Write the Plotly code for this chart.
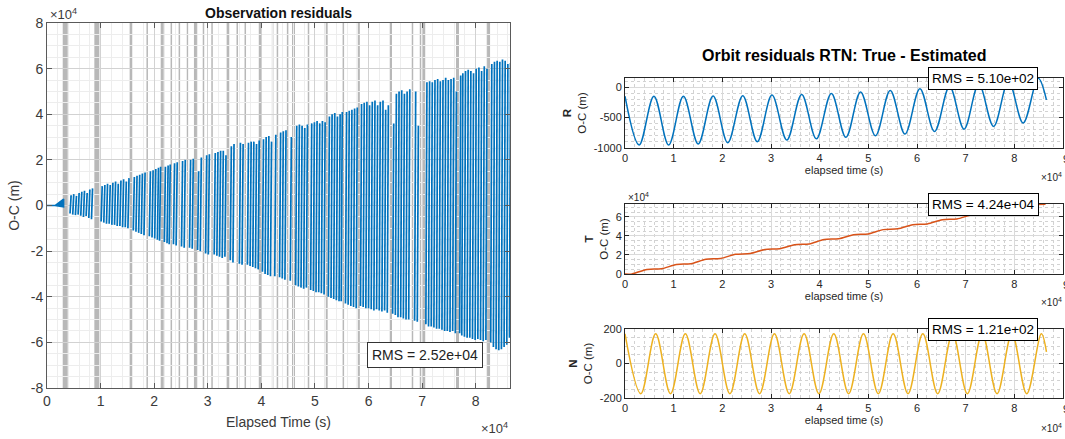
import plotly.graph_objects as go

# ---------------- Left panel: observation residuals (time in ks, residual in km) -------------
STREAK_T = [
    4.3, 4.8, 5.3, 5.8, 6.3, 6.8, 7.3, 7.8, 8.3,
    10.1, 10.6, 11.1, 11.6, 12.1, 12.6, 13.1, 13.6, 14.1, 14.6, 15.1,
    16.1, 16.6, 17.1, 17.6, 18.1,
    19.1, 19.6, 20.1, 20.6, 21.0,
    21.9, 22.4, 22.8,
    23.6, 24.1,
    25.1, 25.6,
    26.6, 27.1,
    28.1, 28.6,
    29.6, 30.1,
    31.2, 31.7, 32.2, 32.7, 33.2,
    34.2, 34.7,
    35.9, 36.4,
    37.4, 37.9, 38.4, 38.9, 39.4,
    40.2, 40.7, 41.2, 41.7,
    42.5,
    43.4, 43.9, 44.4,
    45.4,
    46.4, 46.9, 47.4, 47.9, 48.4,
    49.2, 49.7, 50.2, 50.7, 51.2, 51.7,
    52.5, 53.0, 53.5, 54.0, 54.5, 54.9,
    55.7, 56.2, 56.7, 57.2, 57.7,
    58.5, 59.0, 59.5, 60.0, 60.5, 61.0, 61.5, 62.0, 62.5, 63.0, 63.5,
    64.5, 65.0, 65.5, 66.0, 66.5, 67.0, 67.5,
    68.6, 69.1,
    70.7, 71.2, 71.7, 72.2, 72.7, 73.2, 73.7, 74.2, 74.7, 75.2, 75.7, 76.2,
    77.0, 77.4, 77.9, 78.4, 78.9, 79.4, 79.9, 80.4, 80.9, 81.4, 81.9,
    82.8, 83.3, 83.8, 84.3, 84.8, 85.3, 85.8, 86.3,
]
STREAK_TOP = [
    4.5, 5.0, 4.2, 5.5, 6.0, 6.5, 5.5, 7.0, 7.5,
    8.5, 9.0, 9.5, 9.0, 10.0, 10.5, 9.5, 11.0, 11.5, 10.5, 12.0,
    12.5, 13.0, 13.5, 14.0, 14.5,
    15.0, 15.5, 16.0, 16.5, 17.0,
    17.0, 17.5, 18.0,
    18.5, 19.0,
    19.5, 20.0,
    20.0, 20.5,
    15.0, 21.0,
    22.0, 22.5,
    23.0, 23.5, 24.0, 24.0, 22.0,
    26.0, 27.0,
    27.5, 27.0,
    27.5, 28.0, 28.0, 27.0, 28.5,
    29.0, 30.0, 30.5, 28.0,
    31.0,
    32.0, 32.5, 33.0,
    30.0,
    35.0, 35.5, 35.0, 34.0, 35.5,
    36.0, 36.5, 37.0, 36.0, 37.0, 36.5,
    39.0, 40.0, 40.5, 39.0, 40.0, 41.0,
    41.0, 41.5, 42.0, 42.5, 43.0,
    44.5, 45.0, 45.5, 44.0, 45.5, 46.0, 44.0, 45.5, 46.0, 42.0, 44.0,
    36.0, 49.0, 50.0, 50.5, 49.0, 50.0, 51.0,
    50.0, 35.0,
    54.0, 54.5, 54.0, 55.0, 55.5, 54.5, 55.0, 56.0, 55.0, 55.5, 56.0, 50.0,
    57.0, 58.0, 59.0, 59.5, 59.0, 58.0, 60.0, 60.5, 59.0, 61.0, 60.0,
    62.0, 63.0, 63.5, 63.0, 64.0, 63.5, 62.0, 62.5,
]
STREAK_BOT = [
    -3.5, -4.0, -4.2, -4.0, -4.5, -5.0, -4.6, -5.5, -6.0,
    -7.0, -7.5, -8.0, -8.0, -8.5, -8.5, -9.0, -9.0, -9.5, -9.5, -10.0,
    -11.0, -11.5, -12.0, -12.5, -13.0,
    -13.5, -14.0, -14.5, -15.0, -15.5,
    -16.0, -16.5, -17.0,
    -17.0, -17.5,
    -18.0, -18.5,
    -18.5, -19.0,
    -19.5, -20.0,
    -21.0, -21.5,
    -21.5, -22.0, -22.5, -23.0, -22.5,
    -24.0, -25.0,
    -25.5, -26.0,
    -26.0, -26.5, -27.0, -27.5, -28.0,
    -29.0, -30.0, -30.5, -31.0,
    -31.0,
    -31.5, -32.0, -32.5,
    -33.0,
    -35.0, -35.5, -36.0, -36.5, -36.0,
    -37.0, -37.5, -38.0, -38.0, -38.5, -39.0,
    -40.0, -40.5, -41.0, -41.5, -42.0, -42.0,
    -43.0, -43.5, -44.0, -44.5, -45.0,
    -44.0, -44.5, -45.0, -45.0, -45.5, -46.0, -45.5, -46.0, -46.5, -46.0, -47.0,
    -47.5, -48.0, -49.0, -49.0, -49.5, -50.0, -50.0,
    -50.5, -51.0,
    -52.0, -53.0, -53.0, -53.5, -54.0, -54.0, -54.5, -55.0, -55.0, -55.5, -55.0, -56.0,
    -56.0, -57.0, -57.5, -58.0, -58.0, -58.5, -59.0, -58.5, -59.0, -59.5, -59.0,
    -60.0, -62.0, -63.0, -63.5, -63.0, -62.0, -61.0, -58.0,
]
START_T = [0.0, 1.5, 3.1, 3.1, 1.5]      # initial wedge (ks)
START_Y = [0.0, 0.0, 2.8, -0.6, 0.0]     # (km)

GAP_T_KS = [3.4, 9.3, 15.7, 18.7, 21.5, 23.2, 24.7, 26.2, 27.7, 29.2, 30.8, 33.8, 35.5, 37.0,
            39.8, 42.1, 43.0, 44.9, 46.0, 48.8, 52.1, 55.3, 58.1, 64.1, 68.2, 69.7, 70.3,
            76.6, 82.4]
GAP_W_PX = [5, 5, 3, 1.5, 3, 1.5, 1.5, 1.5, 3, 1.5, 1.5, 3, 1.5, 1.5,
            3, 1.5, 1.5, 1.5, 3, 1.5, 3, 1.5, 3, 3, 1.5, 1.5, 3,
            3, 3]

LEFT_XTICKS = [0, 1, 2, 3, 4, 5, 6, 7, 8]
LEFT_YTICKS = [-8, -6, -4, -2, 0, 2, 4, 6, 8]
RMS_LEFT = "RMS = 2.52e+04"

# ---------------- Right panels: RTN orbit residuals -------------
R_T_KS = [0.0, 2.9, 5.94, 8.97, 12.0, 15.04, 18.1, 21.11, 24.2, 27.18, 30.2, 33.25, 36.3, 39.32,
          42.4, 45.39, 48.4, 51.46, 54.5, 57.53, 60.6, 63.6, 66.7, 69.67, 72.7, 75.74, 78.8,
          81.81, 84.9, 86.6]
R_VAL = [-150, -951, -148, -951, -148, -934, -146, -913, -140, -896, -131, -870, -120, -850,
         -104, -825, -80, -798, -55, -770, -25, -730, 10, -690, 50, -645, 95,
         -590, 145, -210]

T_T_KS = [0.0, 1.45, 4.5, 7.5, 10.57, 13.57, 16.64, 19.64, 22.71, 25.71, 28.78, 31.78, 34.85,
          37.85, 40.92, 43.92, 46.99, 49.99, 53.06, 56.06, 59.13, 62.13, 65.2, 68.2, 71.27,
          74.27, 77.34, 80.34, 83.41, 86.41]
T_VAL_KM = [0.0, 0.05, 4.8, 5.5, 10.0, 10.8, 15.5, 16.3, 20.7, 21.5, 25.8, 26.6, 30.8,
            31.6, 36.2, 37.0, 41.3, 42.1, 46.6, 47.4, 51.8, 52.6, 57.0, 57.8, 62.2,
            63.0, 67.4, 68.2, 72.4, 73.2]

N_T_KS = [0.0, 3.25, 6.3, 9.35, 12.4, 15.45, 18.5, 21.55, 24.6, 27.65, 30.7, 33.75, 36.8, 39.85,
          42.9, 45.95, 49.0, 52.05, 55.1, 58.15, 61.2, 64.25, 67.3, 70.35, 73.4, 76.45, 79.5,
          82.55, 85.55, 86.6]
N_VAL = [172, -175, 172, -175, 172, -175, 172, -175, 172, -175, 172, -175, 172, -175,
         172, -175, 172, -175, 172, -175, 172, -175, 172, -175, 172, -175, 172,
         -175, 172, 68]

RIGHT_XTICKS = [0, 1, 2, 3, 4, 5, 6, 7, 8, 9]
RMS_R = "RMS = 5.10e+02"
RMS_T = "RMS = 4.24e+04"
RMS_N = "RMS = 1.21e+02"

BLUE = "#0072BD"
ORANGE = "#D95319"
YELLOW = "#EDB120"
FONT = "Liberation Sans, Arial, sans-serif"
W, H = 1065, 439

fig = go.Figure()

# left streaks
xs, ys = [], []
for t, top, bot in zip(STREAK_T, STREAK_TOP, STREAK_BOT):
    xs += [t * 1000, t * 1000 + 200, None]
    ys += [bot * 1000, top * 1000, None]
fig.add_trace(go.Scatter(x=xs, y=ys, mode="lines", line=dict(color=BLUE, width=1.7),
                         xaxis="x", yaxis="y", showlegend=False, hoverinfo="skip"))
fig.add_trace(go.Scatter(x=[t * 1000 for t in START_T], y=[v * 1000 for v in START_Y],
                         mode="lines", fill="toself", fillcolor=BLUE,
                         line=dict(color=BLUE, width=1.5), xaxis="x", yaxis="y",
                         showlegend=False, hoverinfo="skip"))

# right curves
fig.add_trace(go.Scatter(x=[t * 1000 for t in R_T_KS], y=R_VAL, mode="lines",
                         line=dict(color=BLUE, width=1.5, shape="spline", smoothing=1.0),
                         xaxis="x2", yaxis="y2", showlegend=False))
fig.add_trace(go.Scatter(x=[t * 1000 for t in T_T_KS], y=[v * 1000 for v in T_VAL_KM], mode="lines",
                         line=dict(color=ORANGE, width=1.5, shape="spline", smoothing=0.8),
                         xaxis="x3", yaxis="y3", showlegend=False))
fig.add_trace(go.Scatter(x=[t * 1000 for t in N_T_KS], y=N_VAL, mode="lines",
                         line=dict(color=YELLOW, width=1.5, shape="spline", smoothing=1.0),
                         xaxis="x4", yaxis="y4", showlegend=False))

# gap markers on left panel
shapes = []
for t, w in zip(GAP_T_KS, GAP_W_PX):
    shapes.append(dict(type="line", xref="x", yref="paper", x0=t * 1000, x1=t * 1000,
                       y0=1 - 388 / H, y1=1 - 23 / H, line=dict(color="#b8b8b8", width=w),
                       layer="below"))


def px_x(p):
    return p / W


def px_y(p):
    return 1 - p / H


left_axis_col = "#5a5a5a"
left_txt = "#3a3a3a"
common_left = dict(showline=True, linecolor=left_axis_col, linewidth=1, mirror="ticks",
                   ticks="inside", ticklen=5, tickcolor=left_axis_col, zeroline=False,
                   showgrid=True, gridcolor="#d2d2d2", gridwidth=1,
                   tickfont=dict(family=FONT, size=14, color=left_txt))

right_axis_col = "#262626"
common_right = dict(showline=True, linecolor=right_axis_col, linewidth=1, mirror="ticks",
                    ticks="inside", ticklen=4, tickcolor=right_axis_col, zeroline=False,
                    showgrid=True, gridcolor="#dadada", gridwidth=1,
                    tickfont=dict(family=FONT, size=11, color=right_axis_col))

layout = dict(
    width=W, height=H, margin=dict(l=0, r=0, t=0, b=0),
    paper_bgcolor="white", plot_bgcolor="rgba(0,0,0,0)", showlegend=False,
    font=dict(family=FONT, color="#262626"),
    shapes=shapes,
)

layout["xaxis"] = dict(common_left, domain=[px_x(47), px_x(510)], range=[0, 86400],
                       tickvals=[v * 1e4 for v in LEFT_XTICKS], ticktext=[str(v) for v in LEFT_XTICKS],
                       minor=dict(dtick=2000, showgrid=True, gridcolor="#ededed", ticks=""),
                       title=dict(text="Elapsed Time (s)", standoff=9,
                                  font=dict(family=FONT, size=14, color=left_txt)),
                       anchor="y", automargin=False)
layout["yaxis"] = dict(common_left, domain=[px_y(388), px_y(23)], range=[-80000, 80000],
                       tickvals=[v * 1e4 for v in LEFT_YTICKS], ticktext=[str(v) for v in LEFT_YTICKS],
                       minor=dict(dtick=5000, showgrid=True, gridcolor="#ededed", ticks=""),
                       title=dict(text="O-C (m)", standoff=7,
                                  font=dict(family=FONT, size=14, color=left_txt)),
                       anchor="x", automargin=False)

X_RIGHT_PX = (625, 1063)
dom_x_right = [px_x(X_RIGHT_PX[0]), px_x(X_RIGHT_PX[1])]


def minor_r(d):
    return dict(dtick=d, showgrid=True, gridcolor="#d2d2d2", griddash="dot", ticks="")


panel_specs = [
    ("2", 148, 78, [-1000, 150], [-1000, -500, 0], ["-1000", "-500", "0"], 100, "R"),
    ("3", 274, 204, [0, 73500], [0, 20000, 40000, 60000], ["0", "2", "4", "6"], 5000, "T"),
    ("4", 398, 329, [-200, 200], [-200, 0, 200], ["-200", "0", "200"], 50, "N"),
]
edge_labels = []
for k, ybot, ytop, yr, yt, ytt, mdt, name in panel_specs:
    layout["xaxis" + k] = dict(common_right, domain=dom_x_right, range=[0, 90000],
                               tickvals=[v * 1e4 for v in RIGHT_XTICKS[:-1]],
                               ticktext=[str(v) for v in RIGHT_XTICKS[:-1]],
                               minor=minor_r(2000), anchor="y" + k, automargin=False,
                               title=dict(text="elapsed time (s)", standoff=3,
                                          font=dict(family=FONT, size=11, color=right_axis_col)))
    layout["yaxis" + k] = dict(common_right, domain=[px_y(ybot), px_y(ytop)], range=yr,
                               tickvals=yt, ticktext=ytt, minor=minor_r(mdt),
                               anchor="x" + k, automargin=False,
                               title=dict(text="<b>" + name + "</b><br>O-C (m)", standoff=4,
                                          font=dict(family=FONT, size=11.5, color=right_axis_col)))
    # last tick label "9" sits on the right edge of the axis (= right edge of the figure)
    edge_labels.append(dict(text=str(RIGHT_XTICKS[-1]), x=dom_x_right[1], xref="paper",
                            y=px_y(ybot + 11), yref="paper", showarrow=False,
                            font=dict(family=FONT, size=11, color=right_axis_col),
                            xanchor="left", xshift=-2, yanchor="middle"))

ann = []
# titles
ann.append(dict(text="<b>Observation residuals</b>", x=px_x(278.5), y=px_y(13), xref="paper", yref="paper",
                showarrow=False, font=dict(family=FONT, size=14, color="#111111"),
                xanchor="center", yanchor="middle"))
ann.append(dict(text="<b>Orbit residuals RTN: True - Estimated</b>", x=px_x(844), y=px_y(56),
                xref="paper", yref="paper", showarrow=False,
                font=dict(family=FONT, size=16, color="#000000"), xanchor="center", yanchor="middle"))
# exponent labels
ann.append(dict(text="×10<sup>4</sup>", x=px_x(48), y=px_y(14), xref="paper", yref="paper",
                showarrow=False, font=dict(family=FONT, size=13, color=left_txt),
                xanchor="left", yanchor="middle"))
ann.append(dict(text="×10<sup>4</sup>", x=px_x(510), y=px_y(428), xref="paper", yref="paper",
                showarrow=False, font=dict(family=FONT, size=13, color=left_txt),
                xanchor="right", yanchor="middle"))
for yb in (177, 302, 428):
    ann.append(dict(text="×10<sup>4</sup>", x=px_x(1064), y=px_y(yb), xref="paper", yref="paper",
                    showarrow=False, font=dict(family=FONT, size=10, color=right_axis_col),
                    xanchor="right", yanchor="middle"))
ann.append(dict(text="×10<sup>4</sup>", x=px_x(626), y=px_y(197), xref="paper", yref="paper",
                showarrow=False, font=dict(family=FONT, size=10, color=right_axis_col),
                xanchor="left", yanchor="middle"))
# RMS boxes
ann.append(dict(text=RMS_LEFT, x=px_x(425), y=px_y(355), xref="paper", yref="paper", showarrow=False,
                font=dict(family=FONT, size=14, color="#222222"), bgcolor="white",
                bordercolor="#333333", borderwidth=1, borderpad=4,
                xanchor="center", yanchor="middle"))
for txt, yc in ((RMS_R, 79), (RMS_T, 204.5), (RMS_N, 329.5)):
    ann.append(dict(text=txt, x=px_x(983), y=px_y(yc), xref="paper", yref="paper", showarrow=False,
                    font=dict(family=FONT, size=13.5, color="#000000"), bgcolor="white",
                    bordercolor="#000000", borderwidth=1, borderpad=3,
                    xanchor="center", yanchor="middle"))
layout["annotations"] = ann + edge_labels

fig.update_layout(**layout)
fig.write_html("out.html", config={"displayModeBar": False},
               post_script="document.body.style.margin='0';document.body.style.padding='0';"
                           "document.body.style.overflow='hidden';")
